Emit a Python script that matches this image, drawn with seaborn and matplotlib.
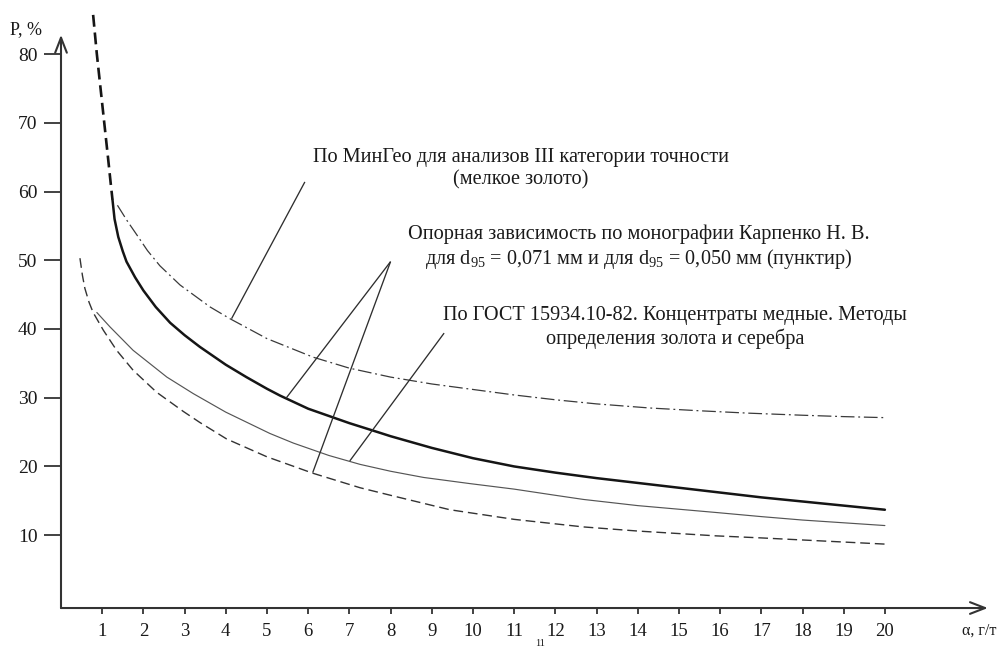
import numpy as np
import pandas as pd
import matplotlib
matplotlib.use("Agg")
import matplotlib.pyplot as plt
import seaborn as sns

# ---- data: error P (%) versus gold grade α (g/t) ----
# Reference dependence (Karpenko), d95 = 0.071 mm, solid part
karp071_x = [1.25, 1.3, 1.39, 1.5, 1.59, 1.8, 2.0, 2.3, 2.65, 3.0, 3.37, 4.0, 4.5,
             5.0, 5.32, 6.0, 7.0, 7.74, 8.0, 9.0, 10.0, 11.0, 12.0, 13.0, 14.0,
             15.0, 16.0, 17.0, 18.0, 19.0, 20.0]
karp071_p = [58.8, 56.0, 53.4, 51.3, 49.8, 47.5, 45.6, 43.2, 40.9, 39.1, 37.4, 34.8, 33.0,
             31.3, 30.3, 28.4, 26.3, 24.9, 24.4, 22.7, 21.2, 20.0, 19.1, 18.3, 17.6,
             16.9, 16.2, 15.5, 14.9, 14.3, 13.7]
# its dashed extrapolation towards small grades
karp071_ext_x = [0.78, 0.87, 0.96, 1.05, 1.14, 1.21, 1.25]
karp071_ext_p = [85.7, 80.0, 75.0, 70.0, 65.0, 61.0, 58.8]

# Reference dependence (Karpenko), d95 = 0.050 mm (dashed)
karp050_x = [0.46, 0.52, 0.58, 0.68, 0.78, 1.03, 1.35, 1.75, 2.32, 2.97, 3.37, 4.02,
             5.0, 6.12, 7.26, 8.0, 9.44, 11.0, 12.68, 14.0, 15.9, 17.0, 18.0, 19.0, 20.0]
karp050_p = [50.3, 47.8, 45.9, 43.9, 42.4, 39.8, 36.9, 34.0, 30.8, 28.0, 26.4, 24.0,
             21.4, 19.0, 16.9, 15.8, 13.7, 12.3, 11.2, 10.6, 9.9, 9.6, 9.3, 9.0, 8.7]

# MinGeo, analyses of accuracy category III (fine gold), dash-dot
mingeo_x = [1.37, 1.6, 1.84, 2.1, 2.4, 2.89, 3.62, 4.1, 5.0, 6.12, 7.0, 8.0, 9.0,
            10.0, 11.0, 12.0, 13.0, 14.3, 15.5, 16.7, 18.0, 19.0, 20.0]
mingeo_p = [58.0, 55.8, 53.7, 51.4, 49.2, 46.4, 43.2, 41.5, 38.6, 35.9, 34.3, 33.0, 32.0,
            31.2, 30.4, 29.7, 29.1, 28.5, 28.1, 27.75, 27.45, 27.25, 27.1]

# GOST 15934.10-82, copper concentrates (thin solid)
gost_x = [0.87, 1.19, 1.75, 2.57, 3.21, 4.0, 5.07, 5.64, 6.5, 7.26, 8.0, 8.8, 9.93,
          11.0, 12.0, 12.68, 14.0, 15.9, 17.0, 18.0, 19.0, 20.0]
gost_p = [42.4, 40.3, 36.9, 33.0, 30.6, 27.9, 24.8, 23.4, 21.6, 20.3, 19.3, 18.4, 17.5,
          16.7, 15.8, 15.2, 14.3, 13.3, 12.7, 12.2, 11.8, 11.4]

x_ticks = list(range(1, 21))
y_ticks = [10, 20, 30, 40, 50, 60, 70, 80]

label_mingeo = "По МинГео для анализов III категории точности\n(мелкое золото)"
label_karp = ("Опорная зависимость по монографии Карпенко Н. В.\n"
              r"для d$_{\mathrm{95}}$ = 0,071 мм и для d$_{\mathrm{95}}$ = 0,050 мм (пунктир)")
label_gost = ("По ГОСТ 15934.10-82. Концентраты медные. Методы\n"
              "определения золота и серебра")

# ---- style ----
sns.set_theme(style="white")
plt.rcParams["font.family"] = ["Liberation Serif", "DejaVu Serif"]
plt.rcParams["mathtext.fontset"] = "custom"
plt.rcParams["mathtext.rm"] = "Liberation Serif"
plt.rcParams["mathtext.it"] = "Liberation Serif:italic"

fig = plt.figure(figsize=(10, 6.48), dpi=100)
ax = fig.add_axes([0.061, 0.0617, 0.931, 0.9238])

x_lo, x_hi = 0.0, 22.6
y_lo, y_hi = -0.6, 86.5
ax.set_xlim(x_lo, x_hi)
ax.set_ylim(y_lo, y_hi)

def curve(xs, ps, **kw):
    df = pd.DataFrame({"x": xs, "p": ps})
    sns.lineplot(data=df, x="x", y="p", ax=ax, estimator=None, sort=False,
                 legend=False, clip_on=False, **kw)

curve(karp071_x, karp071_p, color="#151515", linewidth=1.8)
curve(karp071_ext_x, karp071_ext_p, color="#151515", linewidth=1.9,
      linestyle=(0, (4.5, 2.2)))
curve(karp050_x, karp050_p, color="#333333", linewidth=1.0,
      linestyle=(0, (7, 3.5)))
curve(mingeo_x, mingeo_p, color="#3a3a3a", linewidth=0.9,
      linestyle=(0, (11, 3, 1.5, 3)))
curve(gost_x, gost_p, color="#555555", linewidth=0.85)

# leader lines from the captions to the curves
leaders = [
    ([5.92, 4.14], [61.4, 41.5]),
    ([8.0, 5.46], [49.8, 29.9]),
    ([8.0, 6.11], [49.8, 19.1]),
    ([9.30, 7.01], [39.4, 20.8]),
]
for lx, ly in leaders:
    ax.plot(lx, ly, color="#2e2e2e", linewidth=0.95, solid_capstyle="butt")

txt_kw = dict(ha="center", va="center", fontsize=14.6, color="#1a1a1a",
              linespacing=1.18)
ax.text(11.17, 63.3, label_mingeo, **txt_kw)
ax.text(14.03, 51.8, label_karp, **txt_kw)
ax.text(14.9, 40.2, label_gost, **txt_kw)

# axes drawn as arrows
for s in ax.spines.values():
    s.set_visible(False)
arrow = dict(arrowstyle="->,head_length=0.9,head_width=0.35", color="#333333",
             lw=1.5, shrinkA=0, shrinkB=0)
ax.annotate("", xy=(22.5, y_lo), xytext=(0, y_lo), arrowprops=arrow,
            annotation_clip=False)
ax.annotate("", xy=(0, 82.8), xytext=(0, y_lo), arrowprops=arrow,
            annotation_clip=False)

ax.set_xticks(x_ticks)
ax.set_yticks(y_ticks)
ax.set_xticklabels([str(v) for v in x_ticks])
ax.set_yticklabels([str(v) for v in y_ticks])
ax.tick_params(axis="y", direction="out", length=12, width=1.3, color="#333333",
               pad=5, labelsize=14, labelcolor="#1a1a1a", left=True)
ax.tick_params(axis="x", direction="out", length=4.5, width=1.3, color="#333333",
               pad=6.5, labelsize=13.5, labelcolor="#1a1a1a", bottom=True)
ax.set_xlabel("")
ax.set_ylabel("")
ax.grid(False)

fig.text(0.010, 1 - 30 / 648, "P, %", ha="left", va="center", fontsize=13,
         color="#1a1a1a")
fig.text(0.962, 1 - 631 / 648, "α, г/т", ha="left", va="center", fontsize=11.5,
         color="#1a1a1a")
fig.text(0.540, 0.5 / 648, "11", ha="center", va="bottom", fontsize=7.5,
         color="#1a1a1a")

fig.savefig("out.png", dpi=100, facecolor="white")
